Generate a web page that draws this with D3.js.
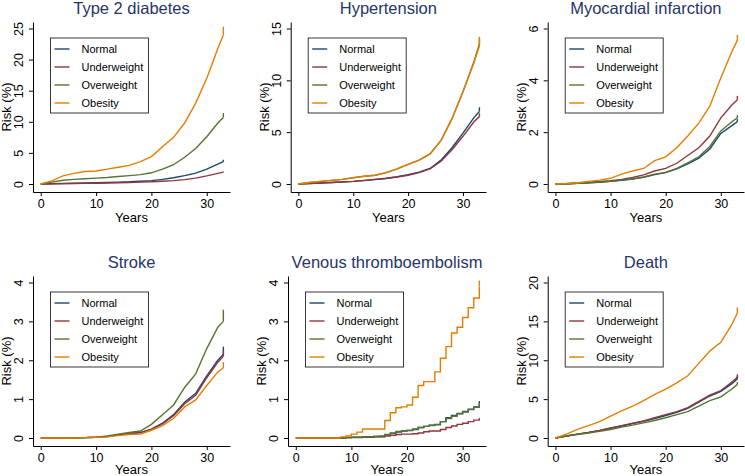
<!DOCTYPE html>
<html>
<head>
<meta charset="utf-8">
<script src="https://cdn.jsdelivr.net/npm/d3@7"></script>
<style>
  body { margin: 0; background: #fff; }
  svg { display: block; font-family: 'Liberation Sans', Arial, sans-serif; }
  .axis path, .axis line { stroke: #000; stroke-width: 1; }
  .axis text { fill: #000; font-size: 12.5px; }
</style>
</head>
<body>
<div id="chart"></div>
<script>
// groups and colours (Stata s2color)
const groups = ['Normal', 'Underweight', 'Overweight', 'Obesity']
const colors = ['#1a476f', '#90353b', '#55752f', '#e37e00']

// follow-up years, read every 2 years (VTE read yearly, it is very steppy)
const years2 = [0, 2, 4, 6, 8, 10, 12, 14, 16, 18, 20, 22, 24, 26, 28, 30, 32, 33]
const years1 = d3.range(0, 34)
const xTicks = [0, 10, 20, 30]

// Type 2 diabetes
const t2dNormal = [0, 0.05, 0.1, 0.12, 0.15, 0.2, 0.25, 0.3, 0.35, 0.45, 0.55, 0.75, 1.0, 1.35, 1.75, 2.4, 3.2, 3.6]
const t2dUnder = [0, 0.02, 0.05, 0.07, 0.1, 0.12, 0.15, 0.2, 0.25, 0.3, 0.35, 0.45, 0.55, 0.7, 0.95, 1.3, 1.7, 1.9]
const t2dOver = [0, 0.3, 0.6, 0.75, 0.85, 0.95, 1.05, 1.2, 1.35, 1.5, 1.8, 2.4, 3.1, 4.3, 5.7, 7.6, 9.8, 10.7]
const t2dObese = [0, 0.5, 1.3, 1.7, 2.0, 2.1, 2.4, 2.7, 3.0, 3.6, 4.4, 6.0, 7.5, 9.8, 13.0, 17.0, 21.8, 24.0]
const t2dCap = [3.9, 2.0, 11.4, 25.3]
const t2dTicks = [0, 5, 10, 15, 20, 25]

// Hypertension
const htnNormal = [0, 0.05, 0.1, 0.15, 0.2, 0.25, 0.35, 0.45, 0.55, 0.7, 0.9, 1.15, 1.5, 2.3, 3.5, 4.9, 6.4, 7.0]
const htnUnder = [0, 0.05, 0.1, 0.15, 0.2, 0.25, 0.33, 0.43, 0.53, 0.68, 0.85, 1.1, 1.45, 2.2, 3.3, 4.6, 6.0, 6.5]
const htnOver = [0, 0.15, 0.25, 0.35, 0.45, 0.6, 0.75, 0.85, 1.1, 1.45, 1.9, 2.3, 2.9, 4.2, 6.3, 8.9, 11.8, 13.5]
const htnObese = [0, 0.15, 0.25, 0.35, 0.45, 0.6, 0.75, 0.85, 1.1, 1.45, 1.9, 2.3, 2.9, 4.2, 6.3, 8.9, 11.7, 13.3]
const htnCap = [7.4, 6.8, 14.0, 14.2]
const htnTicks = [0, 5, 10, 15]

// Myocardial infarction
const miNormal = [0, 0.01, 0.03, 0.05, 0.07, 0.1, 0.14, 0.19, 0.26, 0.36, 0.44, 0.58, 0.78, 1.0, 1.35, 1.95, 2.25, 2.4]
const miUnder = [0, 0.01, 0.03, 0.06, 0.1, 0.13, 0.18, 0.25, 0.35, 0.5, 0.6, 0.8, 1.1, 1.4, 1.85, 2.55, 3.05, 3.25]
const miOver = [0, 0.01, 0.03, 0.05, 0.08, 0.1, 0.15, 0.2, 0.27, 0.38, 0.45, 0.6, 0.82, 1.05, 1.45, 2.05, 2.4, 2.55]
const miObese = [0, 0.02, 0.05, 0.1, 0.15, 0.22, 0.38, 0.5, 0.6, 0.9, 1.05, 1.4, 1.85, 2.35, 3.0, 4.1, 5.1, 5.55]
const miCap = [2.5, 3.4, 2.66, 5.75]
const miTicks = [0, 2, 4, 6]

// Stroke
const strokeNormal = [0, 0, 0, 0, 0.01, 0.02, 0.04, 0.08, 0.12, 0.14, 0.23, 0.38, 0.6, 0.92, 1.15, 1.6, 2.0, 2.15]
const strokeUnder = [0, 0, 0, 0, 0.01, 0.02, 0.04, 0.08, 0.12, 0.14, 0.22, 0.36, 0.57, 0.88, 1.1, 1.55, 1.95, 2.1]
const strokeOver = [0, 0, 0, 0, 0.01, 0.02, 0.05, 0.1, 0.14, 0.18, 0.35, 0.6, 0.85, 1.3, 1.65, 2.3, 2.85, 3.0]
const strokeObese = [0, 0, 0, 0, 0.01, 0.02, 0.03, 0.06, 0.09, 0.1, 0.2, 0.32, 0.5, 0.8, 0.98, 1.35, 1.7, 1.8]
const strokeCap = [2.35, 2.25, 3.3, 1.95]
const strokeTicks = [0, 1, 2, 3, 4]

// Venous thromboembolism (yearly)
const vteNormal = [0, 0, 0, 0, 0, 0, 0, 0, 0, 0.01, 0.02, 0.02, 0.03, 0.03, 0.04, 0.04, 0.08, 0.12, 0.15, 0.18, 0.19, 0.22, 0.27, 0.3, 0.33, 0.35, 0.42, 0.52, 0.58, 0.63, 0.68, 0.74, 0.8, 0.88]
const vteUnder = [0, 0, 0, 0, 0, 0, 0, 0, 0, 0.01, 0.01, 0.01, 0.02, 0.02, 0.03, 0.03, 0.05, 0.07, 0.09, 0.1, 0.1, 0.11, 0.13, 0.16, 0.18, 0.18, 0.22, 0.27, 0.31, 0.35, 0.38, 0.42, 0.46, 0.5]
const vteOver = [0, 0, 0, 0, 0, 0, 0, 0, 0, 0.01, 0.02, 0.02, 0.03, 0.03, 0.04, 0.05, 0.09, 0.13, 0.17, 0.19, 0.2, 0.23, 0.27, 0.3, 0.32, 0.34, 0.42, 0.5, 0.56, 0.62, 0.67, 0.73, 0.79, 0.86]
const vteObese = [0, 0, 0, 0, 0, 0, 0, 0, 0.03, 0.05, 0.1, 0.15, 0.23, 0.23, 0.23, 0.23, 0.45, 0.65, 0.78, 0.8, 0.85, 1.05, 1.35, 1.45, 1.45, 1.7, 2.05, 2.35, 2.7, 2.85, 3.1, 3.35, 3.6, 3.9]
const vteCap = [0.95, 0.52, 0.9, 4.05]
const vteTicks = [0, 1, 2, 3, 4]

// Death
const deathNormal = [0, 0.25, 0.5, 0.7, 0.95, 1.25, 1.55, 1.85, 2.15, 2.5, 2.9, 3.3, 3.8, 4.6, 5.4, 6.0, 7.0, 7.6]
const deathUnder = [0, 0.25, 0.5, 0.72, 0.98, 1.3, 1.6, 1.9, 2.2, 2.6, 3.0, 3.4, 3.9, 4.7, 5.5, 6.1, 7.2, 7.8]
const deathOver = [0, 0.25, 0.45, 0.65, 0.85, 1.1, 1.4, 1.65, 1.95, 2.25, 2.6, 3.0, 3.4, 4.1, 4.8, 5.3, 6.3, 6.9]
const deathObese = [0, 0.5, 1.1, 1.6, 2.1, 2.8, 3.5, 4.1, 4.8, 5.6, 6.3, 7.1, 8.0, 9.6, 11.2, 12.3, 14.6, 16.1]
const deathCap = [8.0, 8.2, 7.2, 16.8]
const deathTicks = [0, 5, 10, 15, 20]

const panels = [
  { title: 'Type 2 diabetes', years: years2, series: [t2dNormal, t2dUnder, t2dOver, t2dObese], caps: t2dCap, ticks: t2dTicks },
  { title: 'Hypertension', years: years2, series: [htnNormal, htnUnder, htnOver, htnObese], caps: htnCap, ticks: htnTicks },
  { title: 'Myocardial infarction', years: years2, series: [miNormal, miUnder, miOver, miObese], caps: miCap, ticks: miTicks },
  { title: 'Stroke', years: years2, series: [strokeNormal, strokeUnder, strokeOver, strokeObese], caps: strokeCap, ticks: strokeTicks },
  { title: 'Venous thromboembolism', years: years1, series: [vteNormal, vteUnder, vteOver, vteObese], caps: vteCap, ticks: vteTicks, curve: d3.curveStepAfter },
  { title: 'Death', years: years2, series: [deathNormal, deathUnder, deathOver, deathObese], caps: deathCap, ticks: deathTicks },
]

// plot frames (x of y-axis line / end of x-axis line; top of y-axis / x-axis line)
const frames = [
  { left: 33, right: 230, top: 22, bottom: 192, xlab: 30 },
  { left: 290.7, right: 486, top: 22, bottom: 192, xlab: 30 },
  { left: 547.7, right: 744, top: 22, bottom: 192, xlab: 30 },
  { left: 33, right: 230, top: 276, bottom: 446, xlab: 27.5 },
  { left: 288, right: 486, top: 276, bottom: 446, xlab: 27.5 },
  { left: 547.7, right: 744, top: 276, bottom: 446, xlab: 27.5 },
]

const width = 745
const height = 476

const svg = d3.select('#chart')
  .append('svg')
  .attr('width', width)
  .attr('height', height)

panels.forEach((p, i) => drawPanel(p, frames[i]))

function drawPanel(p, f) {
  const g = svg.append('g')
  const ymax = d3.max(p.ticks)
  // 0 sits 8px above the x axis, top tick 6.5px below the top of the y axis
  const plotH = f.bottom - f.top - 14.5
  const x = d3.scaleLinear().domain([-1.4, 34.2]).range([f.left, f.right])
  const y = d3.scaleLinear()
    .domain([-ymax * 8 / plotH, ymax * (1 + 6.5 / plotH)])
    .range([f.bottom, f.top])

  const cx = (f.left + f.right) / 2

  g.append('text')
    .attr('x', cx)
    .attr('y', f.top - 8.5)
    .attr('text-anchor', 'middle')
    .attr('fill', '#26356a')
    .style('font-size', '16.5px')
    .text(p.title)

  // axes
  g.append('g')
    .attr('class', 'axis')
    .attr('transform', `translate(0,${f.bottom})`)
    .call(d3.axisBottom(x).tickValues(xTicks).tickSize(4).tickSizeOuter(0).tickFormat(d3.format('d')))

  const ya = g.append('g')
    .attr('class', 'axis')
    .attr('transform', `translate(${f.left},0)`)
    .call(d3.axisLeft(y).tickValues(p.ticks).tickSize(4).tickSizeOuter(0).tickFormat(d3.format('d')))
  ya.selectAll('.tick text')
    .attr('transform', 'rotate(-90)')
    .attr('x', 0)
    .attr('y', -10)
    .attr('dy', 0)
    .attr('text-anchor', 'middle')

  g.append('text')
    .attr('transform', `translate(${f.left - 22},${(f.top + f.bottom) / 2}) rotate(-90)`)
    .attr('text-anchor', 'middle')
    .style('font-size', '13px')
    .text('Risk (%)')

  g.append('text')
    .attr('x', cx)
    .attr('y', f.bottom + f.xlab)
    .attr('text-anchor', 'middle')
    .style('font-size', '13px')
    .text('Years')

  // curves
  const line = d3.line()
    .x(d => x(d[0]))
    .y(d => y(d[1]))
    .curve(p.curve || d3.curveLinear)

  p.series.forEach((vals, k) => {
    const pts = p.years.map((yr, j) => [yr, vals[j]])
    g.append('path')
      .attr('d', line(pts))
      .attr('fill', 'none')
      .attr('stroke', colors[k])
      .attr('stroke-width', 1.4)
    // last jump at end of follow-up
    const last = pts[pts.length - 1]
    g.append('line')
      .attr('x1', x(last[0])).attr('x2', x(last[0]))
      .attr('y1', y(last[1])).attr('y2', y(p.caps[k]))
      .attr('stroke', colors[k])
      .attr('stroke-width', 1.4)
  })

  // legend
  const lx = f.left + 17.5
  const ly = f.top + 16
  const lg = g.append('g').attr('transform', `translate(${lx},${ly})`)
  lg.append('rect')
    .attr('width', 98)
    .attr('height', 75)
    .attr('fill', '#fff')
    .attr('stroke', '#222')
    .attr('stroke-width', 0.9)
  groups.forEach((name, k) => {
    const yy = 11 + k * 18
    lg.append('line')
      .attr('x1', 4).attr('x2', 19)
      .attr('y1', yy).attr('y2', yy)
      .attr('stroke', colors[k])
      .attr('stroke-width', 1.4)
    lg.append('text')
      .attr('x', 31)
      .attr('y', yy)
      .attr('dy', '0.36em')
      .style('font-size', '11px')
      .text(name)
  })
}
</script>
</body>
</html>
